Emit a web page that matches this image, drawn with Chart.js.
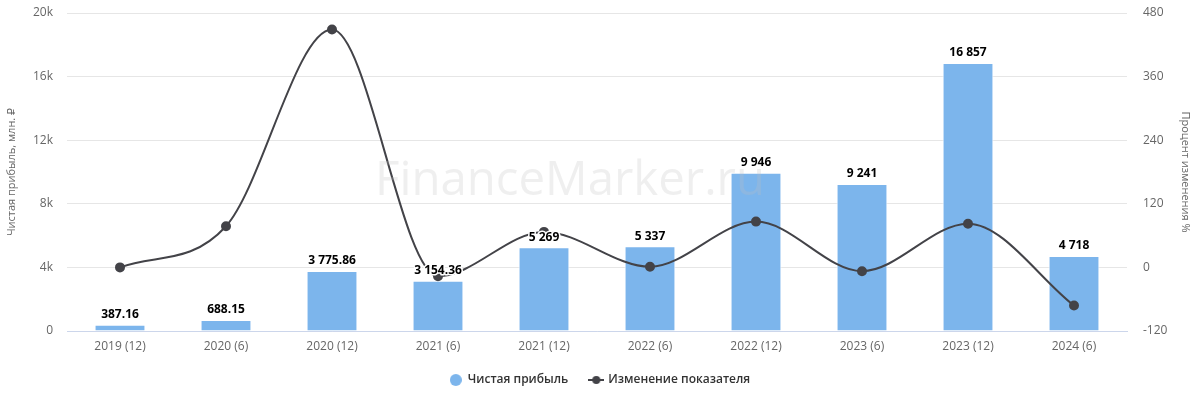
<!DOCTYPE html>
<html>
<head>
<meta charset="utf-8">
<script src="https://cdn.jsdelivr.net/npm/chart.js@4/dist/chart.umd.min.js"></script>
<style>
html,body{margin:0;padding:0;background:#fff;}
#wrap{position:relative;width:1200px;height:395px;}
</style>
</head>
<body>
<div id="wrap"><canvas id="c" width="1200" height="395"></canvas></div>
<script>
const categories = ["2019 (12)","2020 (6)","2020 (12)","2021 (6)","2021 (12)","2022 (6)","2022 (12)","2023 (6)","2023 (12)","2024 (6)"];
const profit = [387.16, 688.15, 3775.86, 3154.36, 5269, 5337, 9946, 9241, 16857, 4718];
const profitLabels = ["387.16","688.15","3 775.86","3 154.36","5 269","5 337","9 946","9 241","16 857","4 718"];
const changePct = [0, 77.7, 448.7, -16.5, 67.0, 1.3, 86.4, -7.1, 82.4, -72.0];
const leftTicks = [0, 4000, 8000, 12000, 16000, 20000];
const rightTicks = [-120, 0, 120, 240, 360, 480];

const FONT = "'Open Sans', 'DejaVu Sans', sans-serif";

// legend icons
const lineIcon = document.createElement('canvas');
lineIcon.width = 16; lineIcon.height = 10;
(function(){
  const g = lineIcon.getContext('2d');
  g.strokeStyle = '#434348'; g.lineWidth = 2;
  g.beginPath(); g.moveTo(0,5); g.lineTo(16,5); g.stroke();
  g.fillStyle = '#434348';
  g.beginPath(); g.arc(8,5,4,0,Math.PI*2); g.fill();
})();
const dotIcon = document.createElement('canvas');
dotIcon.width = 12; dotIcon.height = 12;
(function(){
  const g = dotIcon.getContext('2d');
  g.fillStyle = '#7cb5ec';
  g.beginPath(); g.arc(6,6,6,0,Math.PI*2); g.fill();
})();

const legendFix = {
  id: 'legendFix',
  beforeLayout(chart) {
    const lg = chart.legend;
    if (lg && !lg._patched) {
      const f = lg.fit.bind(lg);
      lg.fit = function() { f(); this.height = 43; };
      lg._patched = true;
    }
  }
};

const watermark = {
  id: 'watermark',
  afterDatasetsDraw(chart) {
    const ctx = chart.ctx;
    ctx.save();
    let size = 48;
    ctx.font = size + "px " + FONT;
    const w = ctx.measureText('FinanceMarker.ru').width;
    size = size * 390 / w;
    ctx.font = size + "px " + FONT;
    ctx.fillStyle = 'rgba(190,190,190,0.25)';
    ctx.textAlign = 'center';
    ctx.textBaseline = 'middle';
    ctx.fillText('FinanceMarker.ru', 570, 182);
    ctx.restore();
  }
};

const barLabels = {
  id: 'barLabels',
  afterDatasetsDraw(chart) {
    const ctx = chart.ctx;
    const meta = chart.getDatasetMeta(0);
    ctx.save();
    ctx.font = "bold 12px " + FONT;
    ctx.textAlign = 'center';
    ctx.textBaseline = 'bottom';
    ctx.lineJoin = 'round';
    meta.data.forEach((bar, i) => {
      const t = profitLabels[i];
      const y = bar.y - 4;
      ctx.strokeStyle = '#fff';
      ctx.lineWidth = 3;
      ctx.strokeText(t, bar.x, y);
      ctx.fillStyle = '#000';
      ctx.fillText(t, bar.x, y);
    });
    ctx.restore();
  }
};

new Chart(document.getElementById('c'), {
  data: {
    labels: categories,
    datasets: [
      {
        type: 'bar',
        label: 'Чистая прибыль',
        data: profit,
        yAxisID: 'y',
        backgroundColor: '#7cb5ec',
        borderColor: '#ffffff',
        borderWidth: 1,
        categoryPercentage: 1,
        barPercentage: 0.48,
        order: 2
      },
      {
        type: 'line',
        label: 'Изменение показателя',
        data: changePct,
        yAxisID: 'y1',
        borderColor: '#434348',
        backgroundColor: '#434348',
        borderWidth: 2,
        pointRadius: 4,
        pointHoverRadius: 4,
        cubicInterpolationMode: 'monotone',
        fill: false,
        order: 1
      }
    ]
  },
  options: {
    responsive: false,
    animation: false,
    devicePixelRatio: 1,
    layout: { padding: { top: 13, left: 0, right: 0, bottom: 0 } },
    plugins: {
      tooltip: { enabled: false },
      legend: {
        position: 'bottom',
        labels: {
          font: { family: FONT, size: 12, weight: '600' },
          color: '#333',
          usePointStyle: true,
          padding: 22,
          generateLabels(chart) {
            return [
              { text: 'Чистая прибыль', pointStyle: dotIcon, datasetIndex: 0, fontColor: '#333' },
              { text: 'Изменение показателя', pointStyle: lineIcon, datasetIndex: 1, fontColor: '#333' }
            ];
          }
        }
      }
    },
    scales: {
      x: {
        afterFit(s) { s.height = 21; },
        grid: { display: false, drawTicks: false },
        border: { display: true, color: '#ccd6eb' },
        ticks: { font: { family: FONT, size: 12 }, color: '#666', padding: 8, maxRotation: 0 }
      },
      y: {
        position: 'left',
        min: 0, max: 20000,
        afterBuildTicks(s) { s.ticks = leftTicks.map(v => ({ value: v })); },
        afterFit(s) { s.width = 67; },
        grid: { color: '#e6e6e6', drawTicks: true, tickLength: 14, tickColor: 'rgba(0,0,0,0)' },
        border: { display: false },
        ticks: {
          font: { family: FONT, size: 12 }, color: '#666', padding: 0,
          callback: v => v === 0 ? '0' : (v / 1000) + 'k'
        },
        title: { display: true, text: 'Чистая прибыль, млн. ₽', font: { family: FONT, size: 11 }, color: '#666', padding: { top: 5, bottom: 0 } }
      },
      y1: {
        position: 'right',
        min: -120, max: 480,
        afterBuildTicks(s) { s.ticks = rightTicks.map(v => ({ value: v })); },
        afterFit(s) { s.width = 73; },
        grid: { display: false, drawTicks: true, tickLength: 16, tickColor: 'rgba(0,0,0,0)' },
        border: { display: false },
        ticks: { font: { family: FONT, size: 12 }, color: '#666', padding: 0 },
        title: { display: true, text: 'Процент изменения %', font: { family: FONT, size: 11 }, color: '#666', padding: { top: 8, bottom: 0 } }
      }
    }
  },
  plugins: [legendFix, watermark, barLabels]
});
</script>
</body>
</html>
